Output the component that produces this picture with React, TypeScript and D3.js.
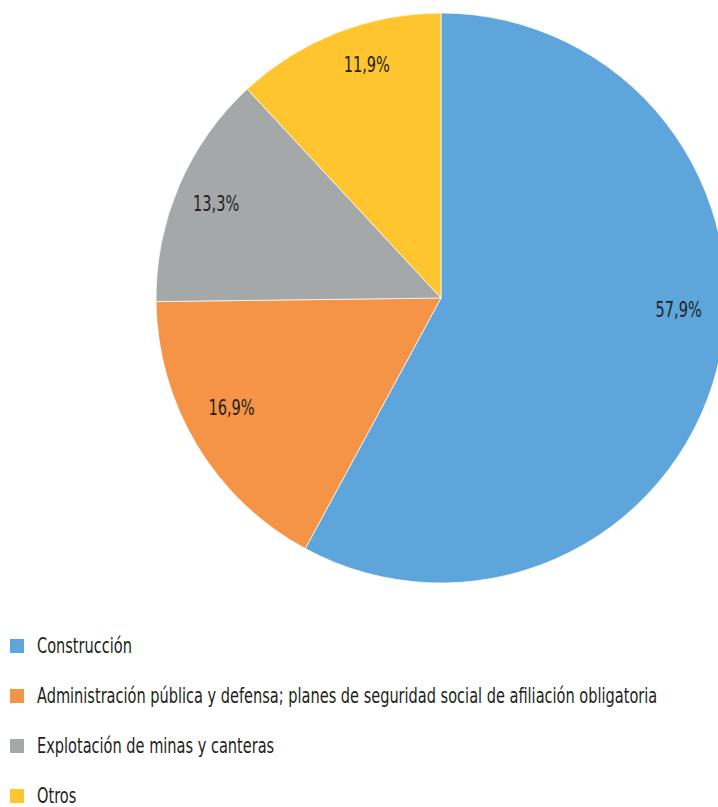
import React from "react";
import * as d3 from "d3";

const categories = [
  "Construcción",
  "Administración pública y defensa; planes de seguridad social de afiliación obligatoria",
  "Explotación de minas y canteras",
  "Otros",
];
const values = [57.9, 16.9, 13.3, 11.9];
const labels = ["57,9%", "16,9%", "13,3%", "11,9%"];
const colors = ["#5DA5DA", "#F59446", "#A5A8A9", "#FEC52E"];
// label angle adjustments (radians) mimicking the original "best fit" placement
const labelAngleShift = [-0.197, 0.06, -0.01, 0.066];
const labelRadiusFactor = [0.835, 0.83, 0.855, 0.86];

const W = 718;
const H = 807;
const cx = 441;
const cy = 298;
const R = 285;
const FONT = "'DejaVu Sans Condensed', 'DejaVu Sans', sans-serif";
const SX = 0.77;
const FS = 21;

export default function App() {
  const pie = d3.pie<number>().sort(null).value((d) => d)(values);
  const arc = d3.arc<d3.PieArcDatum<number>>().innerRadius(0).outerRadius(R);
  const legendY = d3.scaleLinear().domain([0, 3]).range([646, 796]);

  return (
    <div style={{ position: "absolute", left: 0, top: 0 }}>
      <svg width={W} height={H} style={{ display: "block" }}>
        <rect width={W} height={H} fill="#ffffff" />
        <g transform={`translate(${cx},${cy})`}>
          {pie.map((p, i) => (
            <path key={i} d={arc(p) || ""} fill={colors[i]} stroke="#ffffff" strokeWidth={0.7} />
          ))}
          {pie.map((p, i) => {
            const a = (p.startAngle + p.endAngle) / 2 + labelAngleShift[i];
            const lr = R * labelRadiusFactor[i];
            const x = lr * Math.sin(a);
            const y = -lr * Math.cos(a);
            return (
              <g key={i} transform={`translate(${x},${y}) scale(${SX},1)`}>
                <text
                  x={0}
                  y={0}
                  textAnchor="middle"
                  dominantBaseline="central"
                  fontFamily={FONT}
                  fontSize={FS}
                  fill="#231F20"
                >
                  {labels[i]}
                </text>
              </g>
            );
          })}
        </g>
        {categories.map((c, i) => (
          <g key={i} transform={`translate(0,${legendY(i)})`}>
            <rect x={10} y={-7} width={14} height={14} fill={colors[i]} />
            <g transform={`translate(37,0) scale(${SX},1)`}>
              <text
                x={0}
                y={0}
                dominantBaseline="central"
                fontFamily={FONT}
                fontSize={FS}
                fill="#231F20"
              >
                {c}
              </text>
            </g>
          </g>
        ))}
      </svg>
    </div>
  );
}
